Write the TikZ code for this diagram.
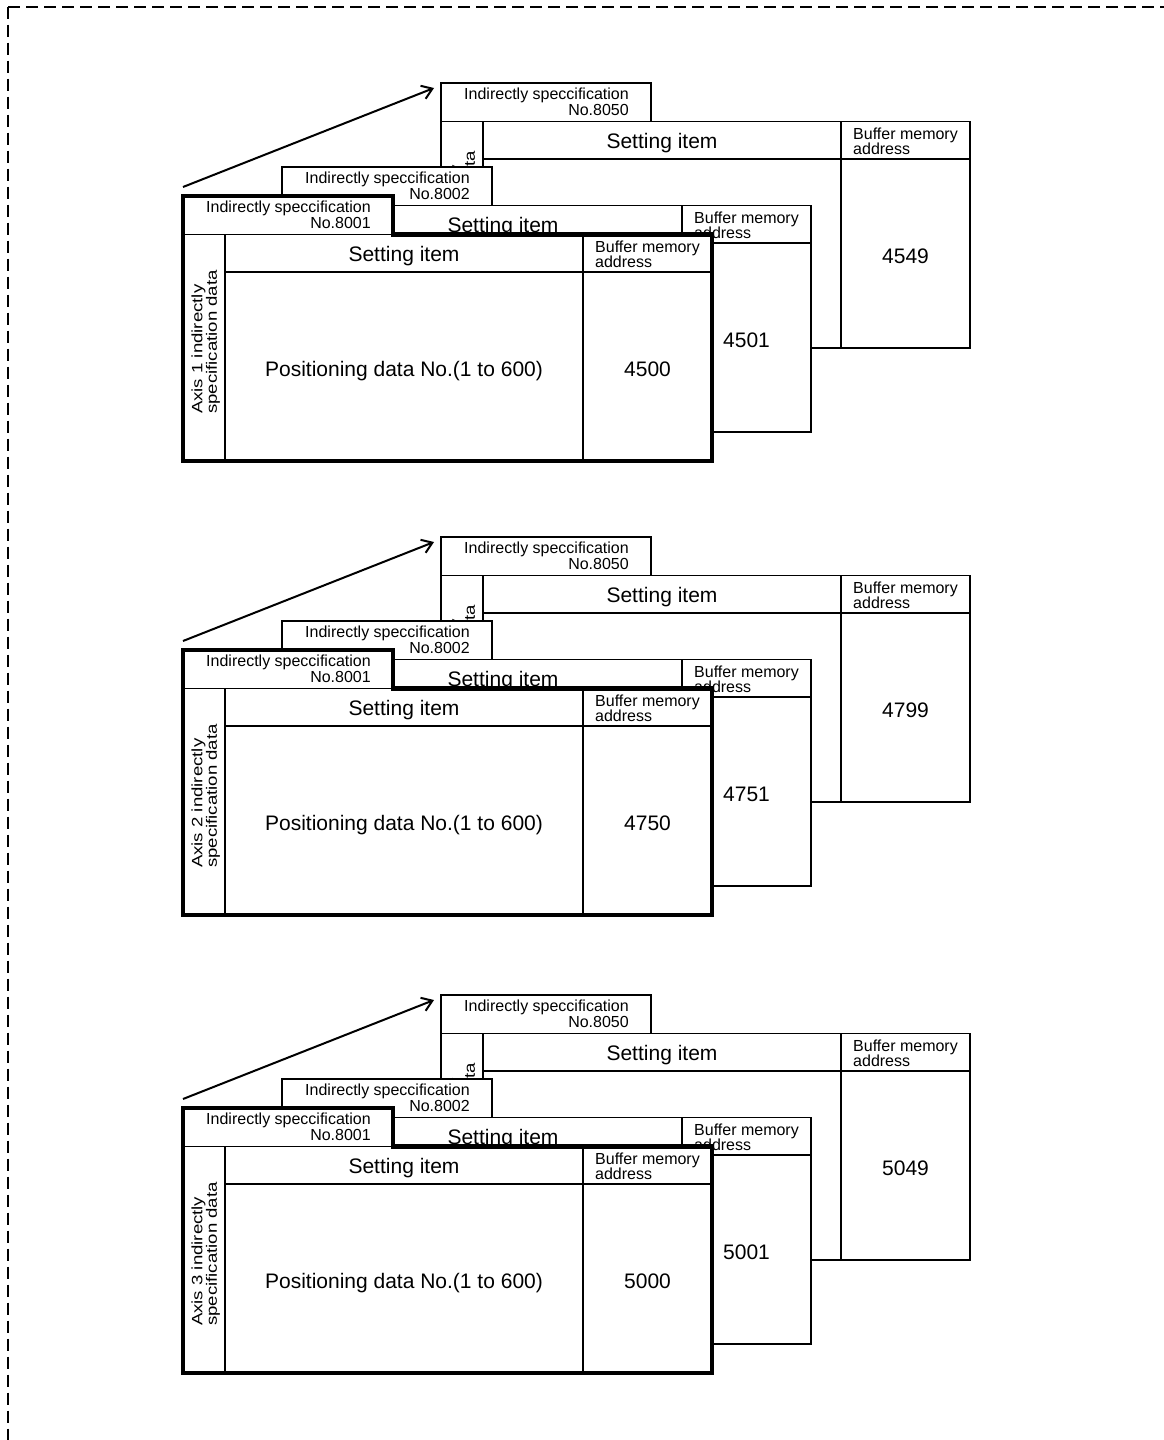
\documentclass[tikz,border=0pt]{standalone}
\usepackage{fontspec}
\setmainfont{Liberation Sans}
\usepackage{graphicx}
\usetikzlibrary{arrows.meta}
\tikzset{
  thinline/.style={line width=1.4pt},
  thickline/.style={line width=4.4pt, line join=miter},
  cardline/.style={line width=1.5pt},
  frameline/.style={line width=2pt, dash pattern=on 12pt off 6pt},
  arrowline/.style={line width=2pt, -{Straight Barb[length=10pt,width=14pt]}},
  tabtext/.style={font=\fontsize{16}{16.3}\selectfont, align=right, inner sep=0pt},
  bigtext/.style={font=\fontsize{21}{24}\selectfont, inner sep=0pt, anchor=base},
  smalltext/.style={font=\fontsize{16}{15}\selectfont, align=left, inner sep=0pt, anchor=west},
  sidetext/.style={font=\fontsize{15}{12}\selectfont, inner sep=0pt, rotate=90},
}
\newcommand{\axislabel}[1]{\scalebox{1.24}[1]{\begin{tabular}{@{}l@{}}Axis #1 indirectly\\specification data\end{tabular}}}
\newcommand{\mycard}[6]{%
  \begin{scope}[shift={#2}]
    \fill[white] (0,0) -- (210,0) -- (210,38.5) -- (529,38.5) -- (529,265) -- (0,265) -- cycle;
    \draw[thinline] (0,38.5) -- (210,38.5) (42,38.5) -- (42,265) (42,76) -- (529,76) (400,38.5) -- (400,265);
    \node[tabtext] (#1tab) at (105.5,19) {Indirectly speccification\\No.#3};
    \node[bigtext] (#1set) at (221,65) {Setting item};
    \node[smalltext] (#1buf) at (412,58) {Buffer memory\\address};
    \node[bigtext] (#1adr) at (464.5,180) {#4};
    #6
    \draw[#5] (0,0) -- (210,0) -- (210,38.5) -- (529,38.5) -- (529,265) -- (0,265) -- cycle;
  \end{scope}}
\begin{document}
\begin{tikzpicture}[x=1pt,y=-1pt]
\useasboundingbox (0,0) rectangle (1164,1440);
\coordinate (fc) at (8.3,6.7);
\coordinate (fr) at (1164,6.7);
\coordinate (fb) at (8.3,1440);
\draw[frameline] (fc) -- (fr);
\draw[frameline] (fc) -- (fb);
\foreach \g/\n/\adrA/\adrB/\adrC in {0/1/4500/4501/4549, 454/2/4750/4751/4799, 912/3/5000/5001/5049}{
  \mycard{g\n b}{(441,83+\g)}{8050}{\adrC}{cardline}{\node[sidetext] (g\n bside) at (23,140) {\axislabel{\n}};}
  \mycard{g\n m}{(282,167+\g)}{8002}{\adrB}{cardline}{}
  \mycard{g\n f}{(183,196+\g)}{8001}{\adrA}{thickline}{\node[sidetext] (g\n fside) at (23,146) {\axislabel{\n}}; \node[bigtext] (g\n fpos) at (221,180) {Positioning data No.(1 to 600)};}
  \coordinate (g\n s) at (183,187+\g);
  \coordinate (g\n e) at (434,88+\g);
  \draw[arrowline] (g\n s) -- (g\n e);
}
\end{tikzpicture}
\end{document}
